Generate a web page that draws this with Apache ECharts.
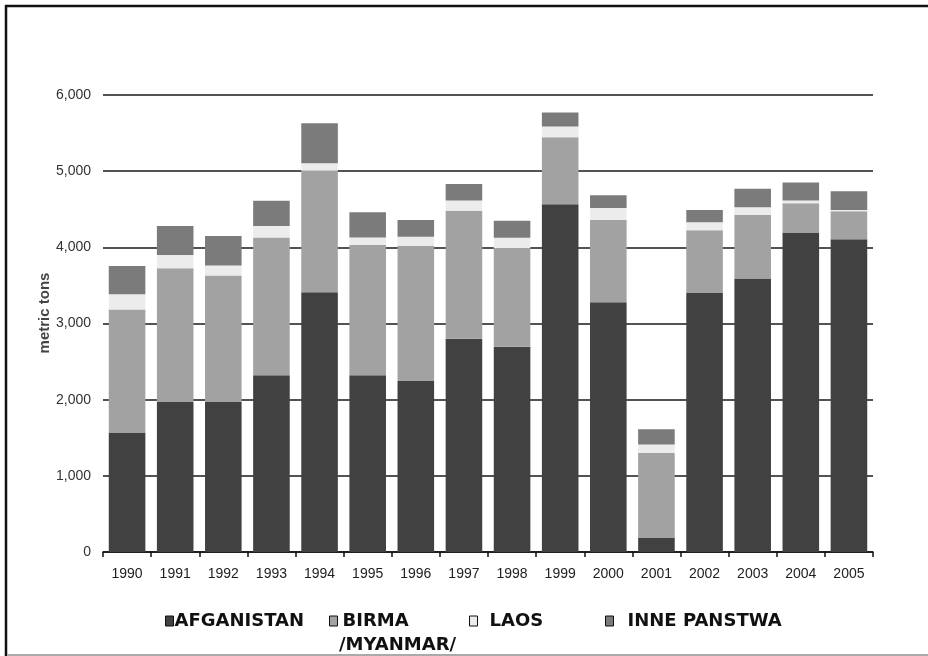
<!DOCTYPE html>
<html>
<head>
<meta charset="utf-8">
<script src="https://cdn.jsdelivr.net/npm/echarts@6/dist/echarts.min.js"></script>
<style>html,body{margin:0;padding:0;background:#fff}#c{width:928px;height:656px}</style>
</head>
<body>
<div id="c"></div>
<script>
const years = ['1990','1991','1992','1993','1994','1995','1996','1997','1998','1999','2000','2001','2002','2003','2004','2005'];
const afganistan = [1570,1970,1970,2320,3410,2320,2245,2800,2695,4565,3280,185,3400,3590,4195,4105];
const birma      = [1615,1755,1660,1810,1595,1710,1775,1680,1295,880,1080,1115,825,835,385,370];
const laos       = [200,175,130,150,100,100,120,135,135,140,155,110,105,100,35,15];
const inne       = [370,380,390,330,525,330,220,215,225,185,170,200,160,245,235,245];
const yTicks = [0,1000,2000,3000,4000,5000,6000];
const seriesNames = ['AFGANISTAN','BIRMA','LAOS','INNE PANSTWA'];
const colors = ['#414141','#a2a2a2','#ececec','#7b7b7b'];

const chart = echarts.init(document.getElementById('c'), null, {renderer:'canvas'});
const legendFont = {fontFamily:'DejaVu Sans', fontWeight:'bold', fontSize:18, color:'#111'};
function mkLegend(name, left, gap){
  return {data:[name], left:left, top:612, padding:0, itemWidth:8, itemHeight:10, itemGap:0,
    icon:'rect', textStyle:Object.assign({padding:[0,0,0,gap-5]}, legendFont),
    itemStyle:{borderColor:'#111', borderWidth:1}};
}
chart.setOption({
  animation:false,
  backgroundColor:'#fff',
  color:colors,
  grid:{left:103, right:55, top:95, bottom:104, containLabel:false},
  legend:[mkLegend('AFGANISTAN',165,1), mkLegend('BIRMA',329,5), mkLegend('LAOS',469,12), mkLegend('INNE PANSTWA',605,14)],
  xAxis:{
    type:'category', data:years, boundaryGap:true,
    axisLine:{show:true, lineStyle:{color:'#111', width:1.5}},
    axisTick:{show:true, alignWithLabel:false, length:5, lineStyle:{color:'#111', width:1.5}},
    axisLabel:{color:'#222', fontFamily:'Liberation Sans', fontSize:14, margin:15}
  },
  yAxis:{
    type:'value', min:0, max:6000, interval:1000,
    axisLine:{show:false},
    axisTick:{show:false},
    splitLine:{show:true, lineStyle:{color:'#1a1a1a', width:1.5}},
    axisLabel:{color:'#333', fontFamily:'Liberation Sans', fontSize:14, margin:12,
      formatter:function(v){return yTicks.indexOf(v)>=0 ? v.toLocaleString('en-US') : '';}}
  },
  series:[
    {name:seriesNames[0], type:'bar', stack:'t', data:afganistan, barCategoryGap:'24%'},
    {name:seriesNames[1], type:'bar', stack:'t', data:birma},
    {name:seriesNames[2], type:'bar', stack:'t', data:laos},
    {name:seriesNames[3], type:'bar', stack:'t', data:inne}
  ],
  graphic:[
    {type:'line', shape:{x1:5, y1:6, x2:928, y2:6}, style:{stroke:'#111', lineWidth:2.5}},
    {type:'line', shape:{x1:6, y1:5, x2:6, y2:656}, style:{stroke:'#111', lineWidth:2.5}},
    {type:'line', shape:{x1:7, y1:655, x2:928, y2:655}, style:{stroke:'#aaa', lineWidth:2}},
    {type:'text', x:45, y:313, rotation:Math.PI/2,
      style:{text:'metric tons', font:'bold 15px "Liberation Sans"', fill:'#444', textAlign:'center', textVerticalAlign:'middle'}},
    {type:'text', left:339, top:636, style:{text:'/MYANMAR/', font:'bold 18px "DejaVu Sans"', fill:'#111'}}
  ]
});
</script>
</body>
</html>
